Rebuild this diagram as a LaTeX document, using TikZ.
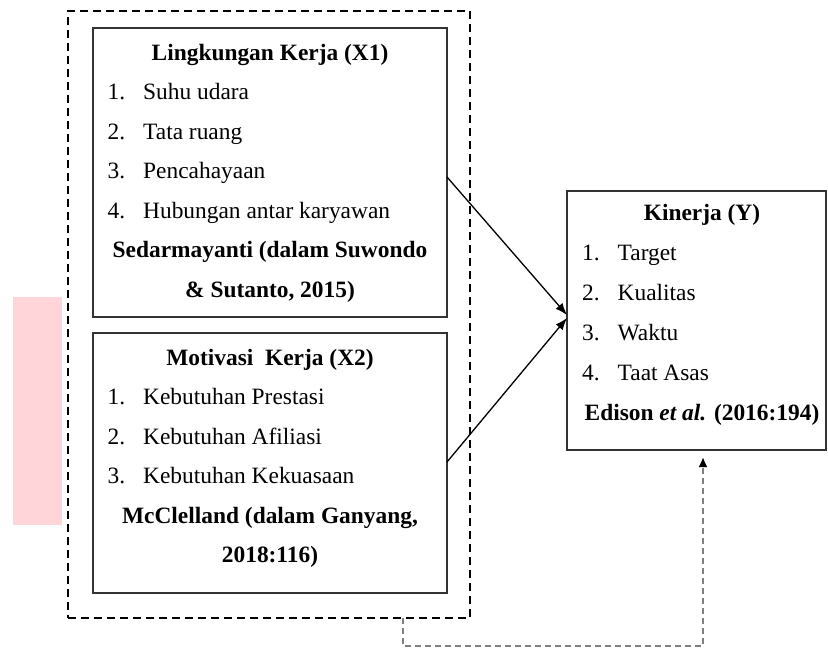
\documentclass[tikz,border=0pt]{standalone}
\usepackage{fontspec}
\setmainfont{Liberation Serif}
\usetikzlibrary{arrows.meta}
\definecolor{pinkfill}{HTML}{FFD5DA}
\newcommand\numitem[2]{\makebox[35.5pt][l]{#1.}#2}
\begin{document}
\begin{tikzpicture}[x=1pt,y=-1pt,
  every node/.style={font=\fontsize{23.4}{28}\selectfont},
  box/.style={draw=black!80, line width=1.8pt, rectangle, inner sep=0pt, outer sep=0pt},
  outerbox/.style={draw=black, line width=1.8pt, dash pattern=on 8pt off 5pt, rectangle, inner sep=0pt, outer sep=0pt},
  itm/.style={inner sep=0pt, anchor=base west},
  ttl/.style={inner sep=0pt, anchor=base, font=\fontsize{23.4}{28}\selectfont\bfseries},
  arr/.style={line width=1.3pt, -{Latex[length=12pt,width=9pt]}},
  conn/.style={draw=black!50, line width=2pt, dash pattern=on 6pt off 4pt, -{Latex[length=10pt,width=9pt,color=black]}}
]
\useasboundingbox (0,0) rectangle (828,648);
\fill[pinkfill] (13,297) rectangle (62,525);

\node[outerbox, minimum width=402pt, minimum height=607pt] (outer) at (269,314.5) {};
\node[box, minimum width=354pt, minimum height=289pt] (b1) at (270,172.5) {};
\node[box, minimum width=354pt, minimum height=260pt] (b2) at (270,463) {};
\node[box, minimum width=259pt, minimum height=259pt] (ky) at (696.5,320.5) {};

% Box 1
\node[ttl] (t1) at (270,60) {Lingkungan Kerja (X1)};
\node[itm] (t1a) at (107.5,99.5) {\numitem{1}{Suhu udara}};
\node[itm] (t1b) at (107.5,139) {\numitem{2}{Tata ruang}};
\node[itm] (t1c) at (107.5,178.5) {\numitem{3}{Pencahayaan}};
\node[itm] (t1d) at (107.5,218) {\numitem{4}{Hubungan antar karyawan}};
\node[ttl] (t1r) at (270,257.5) {Sedarmayanti (dalam Suwondo};
\node[ttl] (t1s) at (270,297) {\& Sutanto, 2015)};

% Box 2
\node[ttl] (t2) at (270,365) {Motivasi\ \ Kerja (X2)};
\node[itm] (t2a) at (107.5,404.5) {\numitem{1}{Kebutuhan Prestasi}};
\node[itm] (t2b) at (107.5,444) {\numitem{2}{Kebutuhan Afiliasi}};
\node[itm] (t2c) at (107.5,483.5) {\numitem{3}{Kebutuhan Kekuasaan}};
\node[ttl] (t2r) at (270,523) {McClelland (dalam Ganyang,};
\node[ttl] (t2s) at (270,562.5) {2018:116)};

% Kinerja
\node[ttl] (ty) at (702,220) {Kinerja (Y)};
\node[itm] (tya) at (582,260) {\numitem{1}{Target}};
\node[itm] (tyb) at (582,300) {\numitem{2}{Kualitas}};
\node[itm] (tyc) at (582,340) {\numitem{3}{Waktu}};
\node[itm] (tyd) at (582,380) {\numitem{4}{Taat Asas}};
\node[ttl] (tyr) at (702,420) {Edison \textit{et al.} (2016:194)};

% arrows
\draw[arr] ([yshift=-4.5pt]b1.east) -- ([yshift=5.5pt]ky.west);
\draw[arr] ([yshift=1pt]b2.east) -- ([yshift=2.5pt]ky.west);

% dashed feedback connector
\coordinate (cb) at (403,646);
\coordinate (cr) at (703,646);
\coordinate (ct) at ([yshift=-7pt]ky.south -| cr);
\draw[conn] (cb |- outer.south) -- (cb) -- (cr) -- (ct);
\end{tikzpicture}
\end{document}
